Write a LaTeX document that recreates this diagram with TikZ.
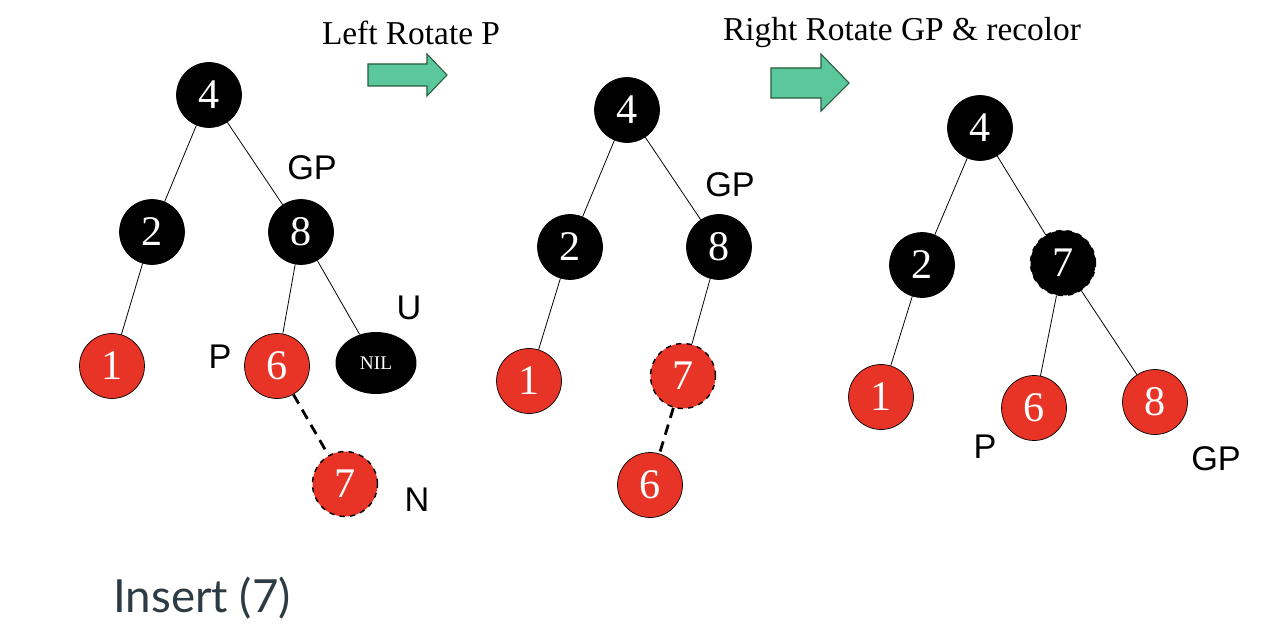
\documentclass[tikz,border=0pt]{standalone}
\usepackage{fontspec}
\setmainfont{Liberation Serif}
\newfontfamily\labelfont{Liberation Sans}
\newfontfamily\captionfont{Lato}
\usetikzlibrary{positioning,shapes.geometric}
\definecolor{nodered}{RGB}{232,52,38}
\definecolor{arrowgreen}{RGB}{90,200,155}
\definecolor{arrowedge}{RGB}{40,90,60}
\definecolor{captiongrey}{RGB}{45,59,69}

\begin{document}
\begin{tikzpicture}[x=0.02cm,y=-0.02cm,
    blk/.style={circle,fill=black,draw=black,minimum size=1.3cm,inner sep=0pt,
        text=white,font=\fontsize{24}{24}\selectfont},
    rd/.style={circle,fill=nodered,draw=black,thin,minimum size=1.3cm,inner sep=0pt,
        text=white,font=\fontsize{24}{24}\selectfont},
    newnode/.style={dashed,thick},
    nilnode/.style={ellipse,fill=black,minimum width=1.62cm,minimum height=1.24cm,
        inner sep=0pt,text=white,font=\fontsize{11}{11}\selectfont},
    tag/.style={font=\labelfont\fontsize{19.5}{19.5}\selectfont},
    title/.style={font=\fontsize{19}{19}\selectfont},
    edge/.style={draw=black,line width=0.45pt},
    newedge/.style={draw=black,line width=1.6pt,dash pattern=on 6pt off 4pt},
    turn/.style={fill=arrowgreen,draw=arrowedge,line width=0.6pt,line join=miter}]
\useasboundingbox (0,0) rectangle (1280,625);

% first tree
\node[blk] (a4) at (209,95) {4};
\node[blk] (a2) at (152,232) {2};
\node[blk] (a8) at (301,232) {8};
\node[rd] (a1) at (112,366) {1};
\node[rd] (a6) at (277,366) {6};
\node[nilnode] (anil) at (376,363) {NIL};
\node[rd,newnode] (a7) at (345,484) {7};
\draw[edge] (a4) -- (a2);
\draw[edge] (a4) -- (a8);
\draw[edge] (a2) -- (a1);
\draw[edge] (a8) -- (a6);
\draw[edge] (a8) -- (anil);
\draw[newedge] (a6) -- (a7);
\node[tag] (agp) at (312,168) {GP};
\node[tag] (au) at (409,308) {U};
\node[tag] (ap) at (220,357) {P};
\node[tag] (an) at (417,500) {N};

% second tree
\node[blk] (b4) at (627,110) {4};
\node[blk] (b2) at (570,247) {2};
\node[blk] (b8) at (719,247) {8};
\node[rd] (b1) at (529,381) {1};
\node[rd,newnode] (b7) at (683,376) {7};
\node[rd] (b6) at (650,485) {6};
\draw[edge] (b4) -- (b2);
\draw[edge] (b4) -- (b8);
\draw[edge] (b2) -- (b1);
\draw[edge] (b8) -- (b7);
\draw[newedge] (b7) -- (b6);
\node[tag] (bgp) at (730,185) {GP};

% third tree
\node[blk] (c4) at (980,128) {4};
\node[blk] (c2) at (922,265) {2};
\node[blk,newnode] (c7) at (1063,263) {7};
\node[rd] (c1) at (881,397) {1};
\node[rd] (c6) at (1034,408) {6};
\node[rd] (c8) at (1155,402) {8};
\draw[edge] (c4) -- (c2);
\draw[edge] (c4) -- (c7);
\draw[edge] (c2) -- (c1);
\draw[edge] (c7) -- (c6);
\draw[edge] (c7) -- (c8);
\node[tag] (cp) at (985,447) {P};
\node[tag] (cgp) at (1216,459) {GP};

% rotation steps
\node[title] (step1) at (411,33) {Left Rotate P};
\draw[turn] (368,64) -- (427,64) -- (427,54) -- (447,75) -- (427,96) -- (427,86) -- (368,86) -- cycle;
\node[title] (step2) at (902,33) {Right Rotate GP \& recolor};
\draw[turn] (771,68) -- (821,68) -- (821,54) -- (849,83) -- (821,111) -- (821,98) -- (771,98) -- cycle;

\node[font=\captionfont\fontsize{26}{26}\selectfont,text=captiongrey] (caption) at (202,598) {Insert (7)};
\end{tikzpicture}
\end{document}
